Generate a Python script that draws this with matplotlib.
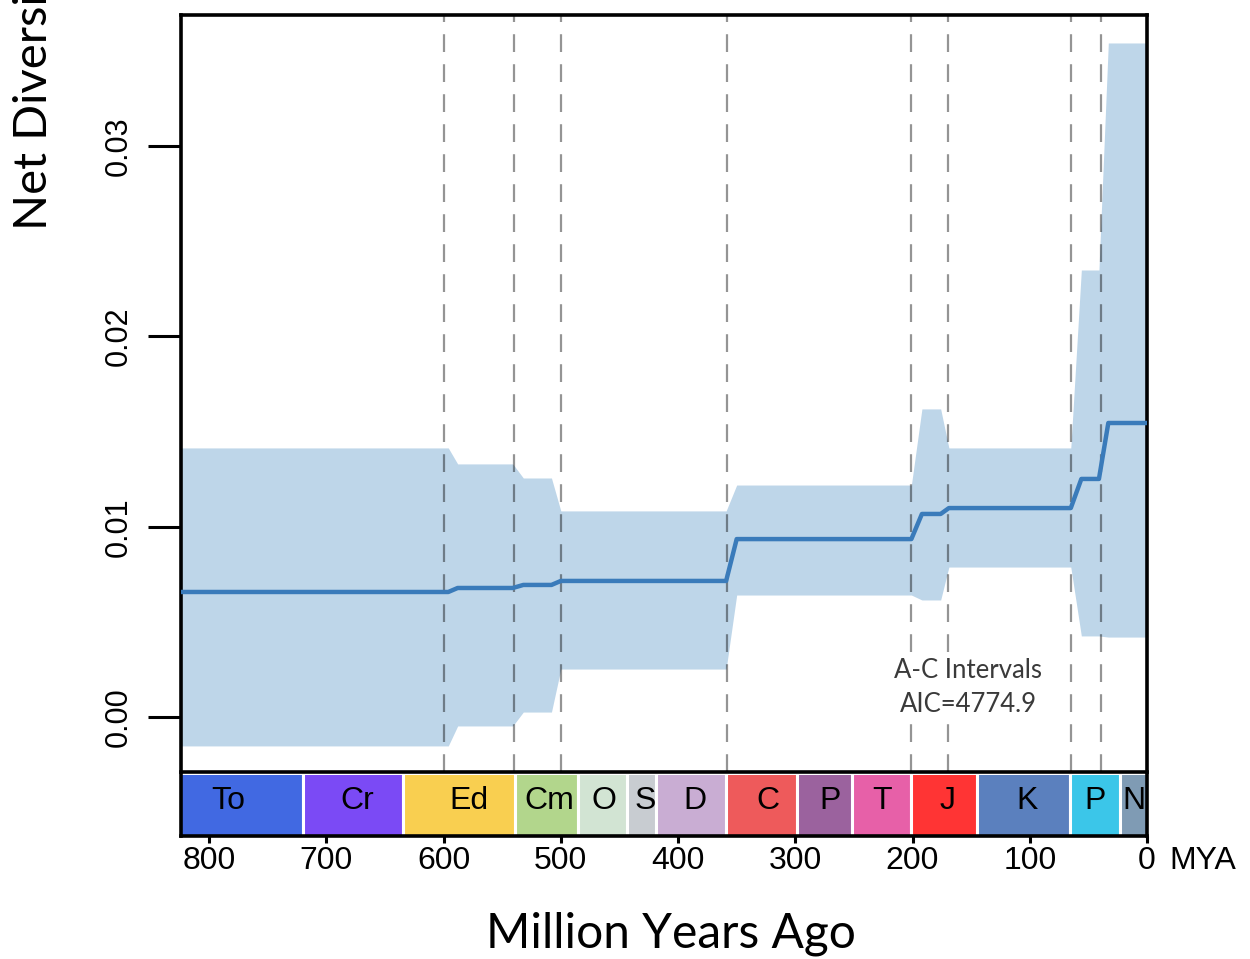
import matplotlib
matplotlib.use("Agg")
import matplotlib.pyplot as plt
from matplotlib import font_manager
from matplotlib.patches import Rectangle

# Net diversification rate through time (million years before present)
age = [824, 596, 588, 541, 532, 508, 500, 359, 350, 201, 192, 176, 169, 65, 56, 41, 33, 0]
rate_mean = [0.00657, 0.00657, 0.00678, 0.00678, 0.00694, 0.00694, 0.00715, 0.00715,
             0.00935, 0.00935, 0.01067, 0.01067, 0.01098, 0.01098, 0.01251, 0.01251,
             0.01545, 0.01545]
rate_upper = [0.01414, 0.01414, 0.01330, 0.01330, 0.01256, 0.01256, 0.01083, 0.01083,
              0.01219, 0.01219, 0.01619, 0.01619, 0.01414, 0.01414, 0.02349, 0.02349,
              0.03542, 0.03542]
rate_lower = [-0.00152, -0.00152, -0.00047, -0.00047, 0.00026, 0.00026, 0.00252, 0.00252,
              0.00641, 0.00641, 0.00615, 0.00615, 0.00788, 0.00788, 0.00426, 0.00426,
              0.00420, 0.00420]

# Interval boundaries of the rate model
shift_ages = [600, 540, 500, 358, 201, 170, 65, 39]

# Geological time scale
period_names = ["To", "Cr", "Ed", "Cm", "O", "S", "D", "C", "P", "T", "J", "K", "P", "N"]
period_start = [1000, 720, 635, 538.8, 485.4, 443.8, 419.2, 358.9, 298.9, 251.9, 201.4, 145.0, 66.0, 23.0]
period_end = [720, 635, 538.8, 485.4, 443.8, 419.2, 358.9, 298.9, 251.9, 201.4, 145.0, 66.0, 23.0, 0.0]
period_colors = ["#4169E2", "#7B4AF5", "#F9CF50", "#B2D68C", "#D2E4D3", "#C8CCD1", "#C9ADD3",
                 "#EE5A5B", "#9B629E", "#E760A8", "#FF3434", "#5B80BE", "#3BC6E9", "#7F9BB4"]
label_age = [784, 674, 578, 510, 463, 428, 386, 323, 270, 226, 170, 102, 44, 11.4]

x_ticks = [800, 700, 600, 500, 400, 300, 200, 100, 0]
x_tick_labels = ["800", "700", "600", "500", "400", "300", "200", "100", "0"]
y_ticks = [0.00, 0.01, 0.02, 0.03]
y_tick_labels = ["0.00", "0.01", "0.02", "0.03"]


def first_available(*names):
    for n in names:
        try:
            font_manager.findfont(font_manager.FontProperties(family=n),
                                  fallback_to_default=False)
            return n
        except ValueError:
            continue
    return "DejaVu Sans"


narrow = first_available("Liberation Sans Narrow", "Liberation Sans")
narrow_size = 27 if narrow == "Liberation Sans Narrow" else 23
humanist = first_available("Lato", "Open Sans", "DejaVu Sans")

W, H = 1250, 959
fig = plt.figure(figsize=(W / 100, H / 100), dpi=100)

x_left, x_right = 181, 1147
ax = fig.add_axes([x_left / W, 1 - 772 / H, (x_right - x_left) / W, (772 - 15) / H])
ax.fill_between(age, rate_lower, rate_upper, color="#BED6E9", lw=0, zorder=1)
for a in shift_ages:
    ax.axvline(a, color="black", alpha=0.42, lw=1.6, ls=(0, (8, 5.5)), zorder=2)
ax.plot(age, rate_mean, color="#3A7BBA", lw=3.2, zorder=3)
ax.set_xlim(824, 0)
ax.set_ylim(-0.00289, 0.03689)
ax.set_xticks([])
ax.set_yticks(y_ticks, y_tick_labels, rotation=90, va="center",
              family=narrow, fontsize=narrow_size - 1)
ax.tick_params(axis="y", length=24, width=2.2, pad=10)
for s in ax.spines.values():
    s.set_linewidth(2.6)

# Time scale strip under the plot
bx = fig.add_axes([x_left / W, 1 - 836 / H, (x_right - x_left) / W, 61 / H])
for name, s, e, c, la in zip(period_names, period_start, period_end, period_colors, label_age):
    bx.add_patch(Rectangle((e, -0.1), s - e, 1.2, facecolor=c, edgecolor="white", lw=2.2))
    bx.text(la, 0.57, name, ha="center", va="center", fontsize=narrow_size, family=narrow)
bx.set_xlim(824, 0)
bx.set_ylim(0, 1)
bx.set_yticks([])
bx.spines["top"].set_visible(False)
for k in ("left", "right", "bottom"):
    bx.spines[k].set_linewidth(2.6)
bx.set_xticks(x_ticks, x_tick_labels, fontsize=narrow_size, family=narrow)
bx.tick_params(axis="x", length=5, width=2.2, pad=2)
bx.annotate("MYA", xy=(0, 0), xycoords=("data", "axes fraction"),
            xytext=(16, -7), textcoords="offset points", ha="left", va="top",
            fontsize=narrow_size, family=narrow, annotation_clip=False)

fig.text(671 / W, 1 - 948 / H, "Million Years Ago", ha="center", va="baseline",
         fontsize=34.5, family=humanist)
fig.text(34 / W, 1 - 230 / H, "Net Diversification Rate", rotation=90,
         ha="center", va="bottom", fontsize=34, family=humanist)

# Model label, on a white box that interrupts the dashed boundaries
fig.text(968 / W, 1 - 687 / H, "A-C Intervals\nAIC=4774.9", ha="center", va="center",
         fontsize=18.5, family=humanist, color="#3a3a3a", linespacing=1.45,
         bbox=dict(facecolor="white", edgecolor="none", pad=3))

fig.savefig("out.png", dpi=100)
